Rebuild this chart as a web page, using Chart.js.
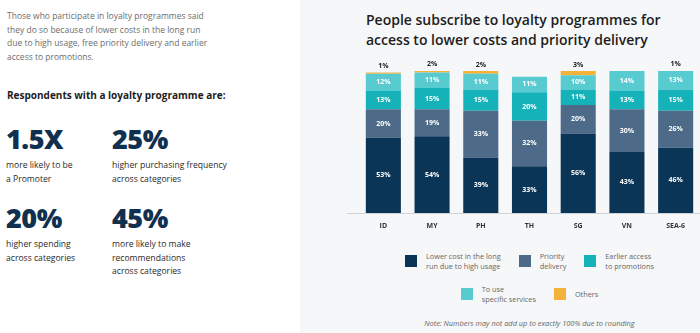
<!DOCTYPE html>
<html>
<head>
<meta charset="utf-8">
<script src="https://cdn.jsdelivr.net/npm/chart.js@4.4.1/dist/chart.umd.min.js"></script>
<style>
  body { margin: 0; width: 700px; height: 333px; overflow: hidden; background: #fff; font-family: "Open Sans", sans-serif; position: relative; }
  #izq { position: absolute; left: 0; top: 0; width: 300px; height: 333px; }
  #der { position: absolute; left: 300px; top: 0; width: 400px; height: 333px; background: #f6f7f8; }
  .intro { position: absolute; left: 7px; top: 9px; font-size: 8.5px; line-height: 13.6px; color: #6d6d6d; }
  .subt { position: absolute; left: 7px; top: 88px; font-size: 10px; font-weight: 700; color: #1c1c1c; }
  .dato { position: absolute; }
  .dato b { display: block; font-size: 27px; font-weight: 800; color: #10304f; line-height: 30px; letter-spacing: -0.5px; }
  .dato span { display: block; font-size: 8.6px; line-height: 13.5px; color: #2a2a2a; margin-top: 5px; }
  #titulo { position: absolute; left: 66px; top: 10px; font-size: 14px; line-height: 20px; font-weight: 600; color: #1d1d1d; }
  #caja { position: absolute; left: 47px; top: 50px; width: 353px; height: 185px; }
  #leyenda { position: absolute; left: 59px; top: 251px; width: 341px; }
  .fila { display: flex; justify-content: center; margin-bottom: 13px; }
  .item { display: flex; align-items: center; margin: 0 9px; font-size: 7.3px; line-height: 10px; color: #666; }
  .item i { display: inline-block; width: 12px; height: 12px; margin-right: 9px; }
  #nota { position: absolute; left: 59px; width: 341px; top: 318px; text-align: center; font-size: 7.4px; font-style: italic; color: #666; }
</style>
</head>
<body>
<div id="izq">
  <div class="intro">Those who participate in loyalty programmes said<br>they do so because of lower costs in the long run<br>due to high usage, free priority delivery and earlier<br>access to promotions.</div>
  <div class="subt">Respondents with a loyalty programme are:</div>
  <div class="dato" style="left:6px; top:124px"><b>1.5X</b><span>more likely to be<br>a Promoter</span></div>
  <div class="dato" style="left:112px; top:124px"><b>25%</b><span>higher purchasing frequency<br>across categories</span></div>
  <div class="dato" style="left:6px; top:203px"><b>20%</b><span>higher spending<br>across categories</span></div>
  <div class="dato" style="left:112px; top:203px"><b>45%</b><span>more likely to make<br>recommendations<br>across categories</span></div>
</div>
<div id="der">
  <div id="titulo">People subscribe to loyalty programmes for<br>access to lower costs and priority delivery</div>
  <div id="caja"><canvas id="miGrafico"></canvas></div>
  <div id="leyenda"></div>
  <div id="nota">Note: Numbers may not add up to exactly 100% due to rounding</div>
</div>
<script>
const paises = ['ID', 'MY', 'PH', 'TH', 'SG', 'VN', 'SEA-6'];
const costoBajo = [53, 54, 39, 33, 56, 43, 46];
const entregaPrioritaria = [20, 19, 33, 32, 20, 30, 26];
const accesoPromos = [13, 15, 15, 20, 11, 13, 15];
const serviciosEspecificos = [12, 11, 11, 11, 10, 14, 13];
const otros = [1, 2, 2, 0, 3, 0, 1];

const series = [
  { nombre: ['Lower cost in the long', 'run due to high usage'], datos: costoBajo, color: '#0b3557' },
  { nombre: ['Priority', 'delivery'], datos: entregaPrioritaria, color: '#4d6a89' },
  { nombre: ['Earlier access', 'to promotions'], datos: accesoPromos, color: '#16b2ba' },
  { nombre: ['To use', 'specific services'], datos: serviciosEspecificos, color: '#58cbd1' },
  { nombre: ['Others'], datos: otros, color: '#f4b23a' }
];

// leyenda en html, dos filas como el original
const filas = [[0, 1, 2], [3, 4]];
let html = '';
filas.forEach(f => {
  html += '<div class="fila">' + f.map(i => `<div class="item"><i style="background:${series[i].color}"></i><span>${series[i].nombre.join('<br>')}</span></div>`).join('') + '</div>';
});
document.getElementById('leyenda').innerHTML = html;

// etiquetas de porcentaje dentro de las barras, "Others" encima
const etiquetas = {
  id: 'etiquetas',
  afterDatasetsDraw(chart) {
    const ctx = chart.ctx;
    ctx.save();
    ctx.font = 'bold 7px "Open Sans"';
    ctx.textAlign = 'center';
    ctx.textBaseline = 'middle';
    chart.data.datasets.forEach((ds, i) => {
      chart.getDatasetMeta(i).data.forEach((bar, j) => {
        const v = ds.data[j];
        if (!v) return;
        if (i === chart.data.datasets.length - 1) {
          ctx.fillStyle = '#222';
          ctx.fillText(v + '%', bar.x, bar.y - 6);
        } else {
          ctx.fillStyle = '#fff';
          ctx.fillText(v + '%', bar.x, (bar.y + bar.base) / 2);
        }
      });
    });
    ctx.restore();
  }
};

const lineaBase = {
  id: 'lineaBase',
  beforeDatasetsDraw(chart) {
    const ctx = chart.ctx;
    ctx.save();
    ctx.strokeStyle = '#cfd2d6';
    ctx.lineWidth = 1;
    ctx.beginPath();
    ctx.moveTo(0, chart.chartArea.bottom + 0.5);
    ctx.lineTo(chart.width, chart.chartArea.bottom + 0.5);
    ctx.stroke();
    ctx.restore();
  }
};

new Chart(document.getElementById('miGrafico'), {
  type: 'bar',
  data: {
    labels: paises,
    datasets: series.map(s => ({
      label: s.nombre.join(' '),
      data: s.datos,
      backgroundColor: s.color,
      borderWidth: 0,
      barPercentage: 0.72,
      categoryPercentage: 1
    }))
  },
  options: {
    responsive: true,
    maintainAspectRatio: false,
    animation: false,
    layout: { padding: { left: 12, top: 21, right: 0, bottom: 0 } },
    plugins: { legend: { display: false }, tooltip: { enabled: false } },
    scales: {
      x: {
        stacked: true,
        grid: { display: false },
        border: { display: false },
        ticks: { color: '#333', font: { family: 'Open Sans', size: 7, weight: 'bold' }, padding: 1 },
        afterFit: s => { s.height = 22; }
      },
      y: { stacked: true, display: false, min: 0, max: 100 }
    }
  },
  plugins: [etiquetas, lineaBase]
});
</script>
</body>
</html>
